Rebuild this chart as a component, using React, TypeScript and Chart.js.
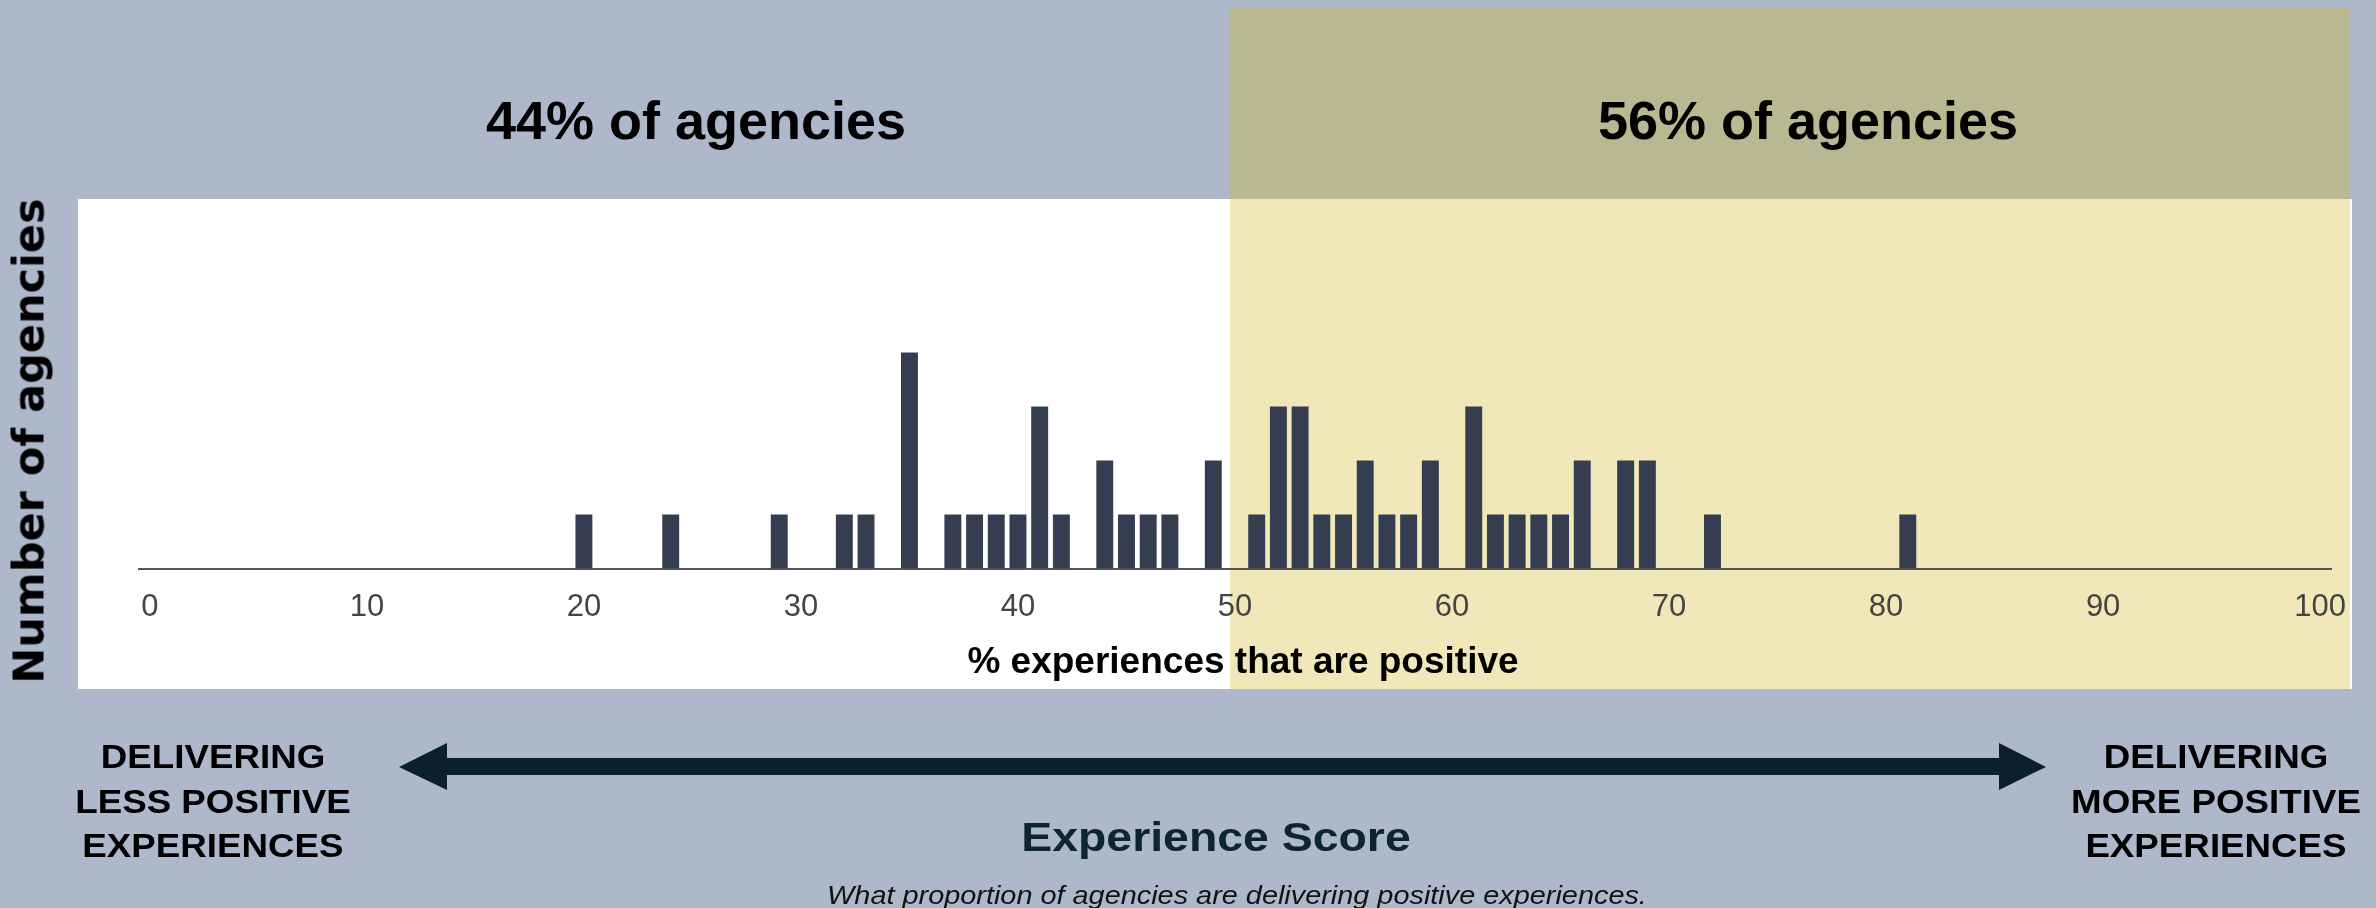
import React, { useEffect, useRef } from "react";
import { Chart, registerables } from "chart.js";

Chart.register(...registerables);

// ---- data ----
const scores = [20, 24, 29, 32, 33, 35, 37, 38, 39, 40, 41, 42, 44, 45, 46, 47, 49, 51, 52, 53, 54, 55, 56, 57, 58, 59, 61, 62, 63, 64, 65, 66, 68, 69, 72, 81];
const agencyCounts = [1, 1, 1, 1, 1, 4, 1, 1, 1, 1, 3, 1, 2, 1, 1, 1, 2, 1, 3, 3, 1, 1, 2, 1, 1, 2, 3, 1, 1, 1, 1, 2, 2, 2, 1, 1];
const xTickValues = [0, 10, 20, 30, 40, 50, 60, 70, 80, 90, 100];
const groupLabels = ["44% of agencies", "56% of agencies"];
const xAxisTitle = "% experiences that are positive";
const yAxisTitle = "Number of agencies";
const leftLabel = ["DELIVERING", "LESS POSITIVE", "EXPERIENCES"];
const rightLabel = ["DELIVERING", "MORE POSITIVE", "EXPERIENCES"];
const scaleTitle = "Experience Score";
const scaleSubtitle = "What proportion of agencies are delivering positive experiences.";

const FONT = '"Liberation Sans", Arial, Helvetica, sans-serif';

type TProps = {
  x: number; y: number; size: number; weight?: string | number; italic?: boolean;
  color?: string; sx?: number; lh?: string | number; family?: string; rotate?: number;
  children: React.ReactNode;
};

function T({ x, y, size, weight = "bold", italic = false, color = "#000", sx = 1, lh = 1, family = FONT, rotate = 0, children }: TProps) {
  return (
    <div
      style={{
        position: "absolute",
        left: x,
        top: y,
        transform: `translate(-50%, -50%) rotate(${rotate}deg) scaleX(${sx})`,
        fontSize: size,
        fontWeight: weight as any,
        fontStyle: italic ? "italic" : "normal",
        color,
        lineHeight: lh,
        whiteSpace: "nowrap",
        textAlign: "center",
        fontFamily: family,
      }}
    >
      {children}
    </div>
  );
}

function Lines({ lines }: { lines: string[] }) {
  return (
    <>
      {lines.map((l, i) => (
        <div key={i}>{l}</div>
      ))}
    </>
  );
}

export default function App() {
  const canvasRef = useRef<HTMLCanvasElement | null>(null);

  useEffect(() => {
    const canvas = canvasRef.current;
    if (!canvas) return;
    const chart = new Chart(canvas, {
      type: "bar",
      data: {
        datasets: [
          {
            label: yAxisTitle,
            data: scores.map((s, i) => ({ x: s, y: agencyCounts[i] })),
            backgroundColor: "#343e50",
            borderWidth: 0,
            barPercentage: 0.78,
            categoryPercentage: 1,
          },
        ],
      },
      options: {
        animation: false,
        responsive: false,
        devicePixelRatio: 1,
        layout: { padding: { left: 139, right: 45, top: 99.5, bottom: 44.3 } },
        plugins: { legend: { display: false }, tooltip: { enabled: false } },
        scales: {
          x: {
            type: "linear",
            min: -0.5,
            max: 100.5,
            offset: false,
            afterBuildTicks: (s: any) => {
              s.ticks = xTickValues.map((v) => ({ value: v }));
            },
            grid: { display: false, drawTicks: false, offset: false },
            border: { display: true, color: "#555555", width: 2 },
            ticks: {
              font: { family: FONT, size: 31 },
              color: "#444444",
              padding: 20,
              maxRotation: 0,
              autoSkip: false,
            },
          },
          y: { display: false, min: 0, max: 5 },
        },
      } as any,
    });
    return () => chart.destroy();
  }, []);

  return (
    <div
      style={{
        position: "relative",
        width: 2376,
        height: 908,
        background: "#adb9cb",
        overflow: "hidden",
        fontFamily: FONT,
      }}
    >
      <style>{"body{margin:0;overflow:hidden}"}</style>
      {/* white plot panel */}
      <div style={{ position: "absolute", left: 78, top: 199, width: 2274, height: 490, background: "#ffffff" }} />
      {/* highlighted upper half */}
      <div style={{ position: "absolute", left: 1230, top: 199, width: 1120, height: 490, background: "#f0e8b9" }} />
      <div style={{ position: "absolute", left: 1230, top: 7, width: 1119, height: 192, background: "#b8b893" }} />

      <canvas
        ref={canvasRef}
        width={2376}
        height={491}
        style={{ position: "absolute", left: 0, top: 199, width: 2376, height: 491 }}
      />

      <T x={696} y={119.5} size={54}>{groupLabels[0]}</T>
      <T x={1808} y={119.5} size={54}>{groupLabels[1]}</T>

      <T x={29} y={441} size={43} rotate={-90} family='"DejaVu Sans", Verdana, sans-serif'>{yAxisTitle}</T>
      <T x={1243} y={659.5} size={37}>{xAxisTitle}</T>

      <svg width={2376} height={908} style={{ position: "absolute", left: 0, top: 0 }}>
        <polygon
          points="399,767 447,743 447,758 1999,758 1999,743 2046,767 1999,790 1999,775 447,775 447,790"
          fill="#0c1f2d"
        />
      </svg>

      <T x={213} y={802} size={32.5} sx={1.13} lh="44.5px"><Lines lines={leftLabel} /></T>
      <T x={2216} y={802} size={32.5} sx={1.13} lh="44.5px"><Lines lines={rightLabel} /></T>

      <T x={1216} y={836.5} size={40} sx={1.16} color="#0f2433">{scaleTitle}</T>
      <T x={1237} y={894.5} size={26} weight="normal" italic sx={1.11} color="#111111">{scaleSubtitle}</T>
    </div>
  );
}
